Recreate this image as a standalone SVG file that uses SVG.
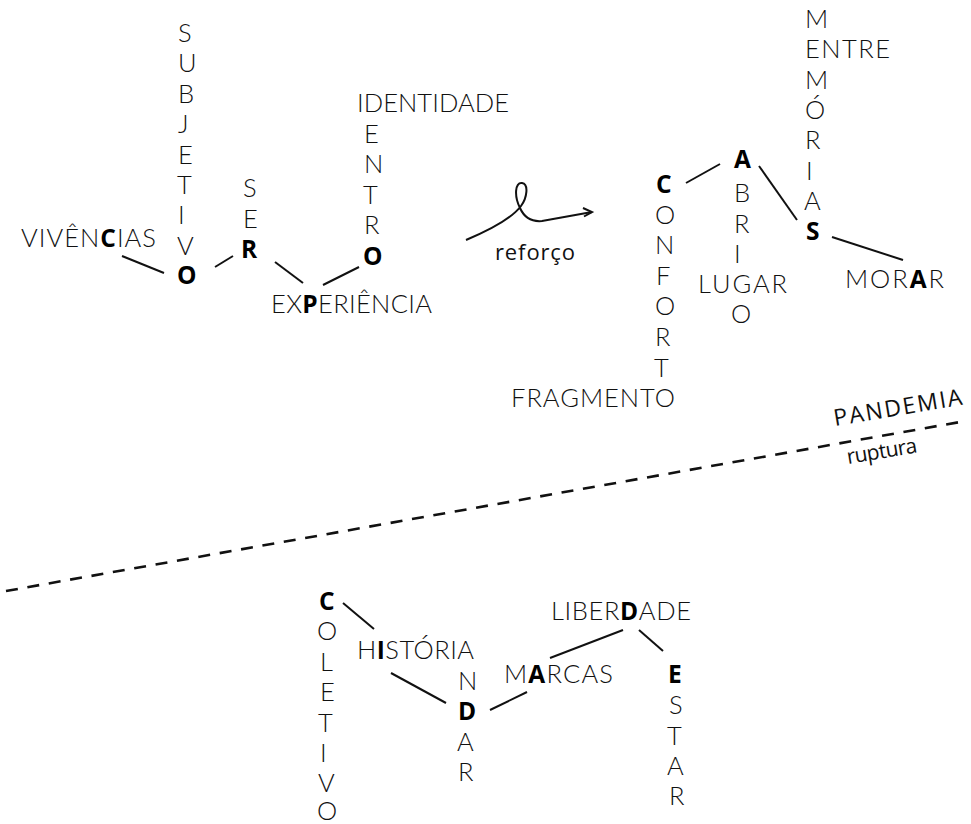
<svg xmlns="http://www.w3.org/2000/svg" width="971" height="824" viewBox="0 0 971 824">
  <style>
    .t { font-family: Lato, "Liberation Sans", sans-serif; font-weight: 300; font-size: 25.5px; fill: #111; }
    .b { font-family: "Open Sans", "Liberation Sans", sans-serif; font-weight: 700; font-size: 24.5px; fill: #000; }
    .s { font-family: "Open Sans", "Noto Sans", "Liberation Sans", sans-serif; font-weight: 400; fill: #111; }
    .c { stroke: #111; stroke-width: 2; fill: none; stroke-linecap: butt; }
    .cut { stroke: #111; stroke-width: 2.6; fill: none; stroke-dasharray: 12 9.7; }
  </style>
  <rect width="971" height="824" fill="#fff"/>

  <!-- connectors -->
  <g id="connectors">
    <line class="c" x1="122" y1="256" x2="164" y2="273"/>
    <line class="c" x1="215" y1="267" x2="233" y2="256"/>
    <line class="c" x1="275" y1="262" x2="303" y2="283"/>
    <line class="c" x1="323" y1="285" x2="359" y2="267"/>
    <line class="c" x1="686" y1="183" x2="720" y2="164"/>
    <line class="c" x1="759" y1="166" x2="797" y2="220"/>
    <line class="c" x1="832" y1="237" x2="903" y2="260"/>
    <line class="c" x1="343" y1="603" x2="374" y2="629"/>
    <line class="c" x1="391" y1="673" x2="446" y2="703"/>
    <line class="c" x1="490" y1="710" x2="527" y2="692"/>
    <line class="c" x1="550" y1="658" x2="623" y2="630"/>
    <line class="c" x1="639" y1="630" x2="663" y2="651"/>
    <!-- looped arrow -->
    <path class="c" d="M466,240 C490,230 512,218 521,206 C527,198 529,184 522,183 C515,182 514,196 520,208 C524,217 531,222 542,221 L592,212"/>
    <path class="c" d="M583,208 L592,212 L584,216.5"/>
    <!-- break line -->
    <line class="cut" x1="6" y1="591" x2="960" y2="422"/>
  </g>

  <!-- upper left: C O R P O -->
  <g id="vivencias">
    <text class="t" x="21" y="247" textLength="135" lengthAdjust="spacing">VIVÊN<tspan class="b">C</tspan>IAS</text>
  </g>
  <g id="subjetivo" class="t">
    <text x="178" y="42">S</text>
    <text x="178" y="72.4">U</text>
    <text x="178" y="102.8">B</text>
    <text x="178" y="133.2">J</text>
    <text x="178" y="163.6">E</text>
    <text x="177" y="194">T</text>
    <text x="178" y="224.4">I</text>
    <text x="177" y="254.8">V</text>
    <text class="b" x="177" y="284">O</text>
  </g>
  <g id="ser" class="t">
    <text x="243" y="197">S</text>
    <text x="243" y="227.5">E</text>
    <text class="b" x="241" y="258">R</text>
  </g>
  <g id="experiencia">
    <text class="t" x="271" y="313" textLength="161" lengthAdjust="spacing">EX<tspan class="b">P</tspan>ERIÊNCIA</text>
  </g>
  <g id="dentro" class="t">
    <text x="357" y="112" textLength="152" lengthAdjust="spacing">IDENTIDADE</text>
    <text x="364" y="142.6">E</text>
    <text x="364" y="173.2">N</text>
    <text x="363" y="203.8">T</text>
    <text x="364" y="234.4">R</text>
    <text class="b" x="363" y="265">O</text>
  </g>

  <g id="reforco">
    <text class="s" x="495" y="260" font-size="22" textLength="80" lengthAdjust="spacing">reforço</text>
  </g>

  <!-- upper right: C A S A -->
  <g id="conforto" class="t">
    <text class="b" x="656" y="193">C</text>
    <text x="655" y="223.6">O</text>
    <text x="655" y="254">N</text>
    <text x="656" y="284.8">F</text>
    <text x="655" y="315">O</text>
    <text x="655" y="346">R</text>
    <text x="654" y="376.6">T</text>
  </g>
  <g id="fragmento">
    <text class="t" x="511" y="407" textLength="164" lengthAdjust="spacing">FRAGMENTO</text>
  </g>
  <g id="abrigo" class="t">
    <text class="b" x="734" y="168">A</text>
    <text x="734" y="202">B</text>
    <text x="734" y="232.5">R</text>
    <text x="734" y="263">I</text>
    <text x="731" y="323">O</text>
  </g>
  <g id="lugar">
    <text class="t" x="698" y="293" textLength="89" lengthAdjust="spacing">LUGAR</text>
  </g>
  <g id="memorias" class="t">
    <text x="805" y="28">M</text>
    <text x="805" y="88.6">M</text>
    <text x="805" y="118.9">Ó</text>
    <text x="805" y="149.2">R</text>
    <text x="806" y="179.5">I</text>
    <text x="804" y="209.8">A</text>
    <text class="b" x="806" y="240">S</text>
  </g>
  <g id="entre">
    <text class="t" x="805" y="58" textLength="85" lengthAdjust="spacing">ENTRE</text>
  </g>
  <g id="morar">
    <text class="t" x="845" y="288" textLength="99" lengthAdjust="spacing">MOR<tspan class="b">A</tspan>R</text>
  </g>

  <!-- break -->
  <g id="pandemia">
    <text class="s" x="835" y="426" font-size="23" textLength="130" lengthAdjust="spacing" transform="rotate(-9.5 835 426)">PANDEMIA</text>
  </g>
  <g id="ruptura">
    <text class="s" x="848" y="464" font-size="21" textLength="71" lengthAdjust="spacing" transform="rotate(-9.5 848 464)">ruptura</text>
  </g>

  <!-- lower: C I D A D E -->
  <g id="coletivo" class="t">
    <text class="b" x="319" y="610">C</text>
    <text x="317" y="640.4">O</text>
    <text x="320" y="670.8">L</text>
    <text x="320" y="701.2">E</text>
    <text x="318" y="731.6">T</text>
    <text x="320" y="762">I</text>
    <text x="318" y="792.4">V</text>
    <text x="317" y="820">O</text>
  </g>
  <g id="historia">
    <text class="t" x="357" y="659" textLength="117" lengthAdjust="spacing">H<tspan class="b">I</tspan>STÓRIA</text>
  </g>
  <g id="andar" class="t">
    <text x="458" y="689.5">N</text>
    <text class="b" x="458" y="720">D</text>
    <text x="457" y="750.5">A</text>
    <text x="458" y="781">R</text>
  </g>
  <g id="marcas">
    <text class="t" x="504" y="683" textLength="109" lengthAdjust="spacing">M<tspan class="b">A</tspan>RCAS</text>
  </g>
  <g id="liberdade">
    <text class="t" x="551" y="620" textLength="140" lengthAdjust="spacing">LIBER<tspan class="b">D</tspan>ADE</text>
  </g>
  <g id="estar" class="t">
    <text class="b" x="668" y="683">E</text>
    <text x="669" y="714">S</text>
    <text x="667" y="744.5">T</text>
    <text x="667" y="775">A</text>
    <text x="669" y="805">R</text>
  </g>
</svg>
